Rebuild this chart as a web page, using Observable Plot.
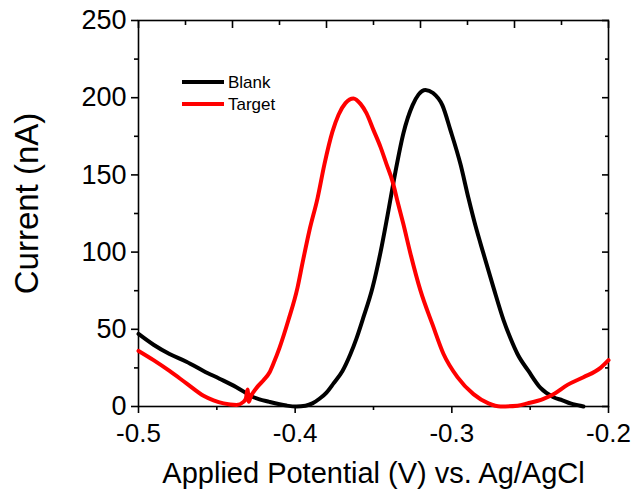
<!DOCTYPE html>
<html>
<head>
<meta charset="utf-8">
<script src="https://cdn.jsdelivr.net/npm/d3@7"></script>
<script src="https://cdn.jsdelivr.net/npm/@observablehq/plot@0.6"></script>
<style>
  body { margin: 0; background: #fff; }
  #chart { position: relative; width: 637px; height: 499px; font-family: "Liberation Sans", Arial, sans-serif; }
  #legend { position: absolute; left: 0; top: 0; pointer-events: none; }
</style>
</head>
<body>
<div id="chart"></div>
<script>
// Square-wave voltammograms: potential (V vs. Ag/AgCl) and current (nA)
const blankV = [-0.500, -0.4904, -0.4802, -0.4694, -0.4585, -0.4483, -0.4375, -0.4266, -0.4164, -0.4055,
  -0.3992, -0.3934, -0.3890, -0.3845, -0.3800, -0.3755, -0.3698, -0.3647, -0.3609, -0.3570,
  -0.3506, -0.3455, -0.3410, -0.3360, -0.3309, -0.3251, -0.3213, -0.3168, -0.3120, -0.3060,
  -0.3009, -0.2945, -0.2894, -0.2849, -0.2798, -0.2734, -0.2670, -0.2625, -0.2581, -0.2511,
  -0.2434, -0.2351, -0.2294, -0.2243, -0.2179, -0.2160];
const blankI = [47, 40, 34, 29, 23, 18, 12.5, 6, 3, 0.6,
  0, 0.5, 2, 5, 9, 15, 23, 34, 44, 56,
  77, 100, 124, 152, 177, 195, 202, 205, 203, 195,
  179, 157, 135, 117, 99, 77, 56, 44, 34, 23,
  12, 6, 4, 2, 0.5, 0];

const targetV = [-0.500, -0.4904, -0.4802, -0.4694, -0.4585, -0.4521, -0.4457, -0.4374, -0.4330, -0.4315,
  -0.4304, -0.4296, -0.4285, -0.4247, -0.4202, -0.4164, -0.4138, -0.4100, -0.4043, -0.3985,
  -0.3953, -0.3909, -0.3857, -0.3813, -0.3762, -0.3723, -0.3679, -0.3628, -0.3583, -0.3545,
  -0.3500, -0.3455, -0.3417, -0.3379, -0.3347, -0.3309, -0.3264, -0.3200, -0.3123, -0.3053,
  -0.2964, -0.2862, -0.2766, -0.2689, -0.2581, -0.2517, -0.2415, -0.2351, -0.2262, -0.2160,
  -0.2051, -0.2000];
const targetI = [36, 30, 23, 15, 7, 4, 2, 1, 3, 5,
  11, 3, 6, 12, 17, 22, 28, 38, 56, 77,
  93, 114, 135, 157, 178, 189, 196.5, 199.5, 196, 190,
  179, 168, 157, 146, 133, 118, 99, 75, 53, 34,
  19, 8, 2, 0, 0.5, 2, 5, 8, 14, 19,
  25, 30];

const xMajor = [-0.5, -0.4, -0.3, -0.2];
const xMinor = [-0.45, -0.35, -0.25];
const topMajor = [-0.5, -0.44, -0.38, -0.32, -0.26, -0.2];
const topMinor = [-0.47, -0.41, -0.35, -0.29, -0.23];
const yMajor = [0, 50, 100, 150, 200, 250];
const yMinor = [25, 75, 125, 175, 225];

const seriesNames = ["Blank", "Target"];
const seriesColors = ["#000000", "#ff0000"];

const blank = blankV.map((v, i) => ({v, i: blankI[i]}));
const target = targetV.map((v, i) => ({v, i: targetI[i]}));

const font = "Liberation Sans, Arial, sans-serif";
const blankFmt = () => "";

const chart = Plot.plot({
  width: 637,
  height: 499,
  marginLeft: 138,
  marginRight: 29,
  marginTop: 20,
  marginBottom: 93,
  style: {fontFamily: font, background: "#fff", color: "#000"},
  x: {domain: [-0.5, -0.2]},
  y: {domain: [0, 250]},
  marks: [
    // bottom axis: labelled majors, unlabelled minors, pointing outward
    Plot.axisX(xMajor, {anchor: "bottom", tickSize: 7, tickPadding: 10, strokeWidth: 1.6,
      fontSize: 26, tickFormat: d => d.toFixed(1), label: null}),
    Plot.axisX(xMinor, {anchor: "bottom", tickSize: 4, strokeWidth: 1.6, tickFormat: blankFmt, label: null}),
    // top axis: inward ticks only
    Plot.axisX(topMajor, {anchor: "top", tickSize: -7, strokeWidth: 1.6, tickFormat: blankFmt, label: null}),
    Plot.axisX(topMinor, {anchor: "top", tickSize: -4, strokeWidth: 1.6, tickFormat: blankFmt, label: null}),
    // left axis
    Plot.axisY(yMajor, {anchor: "left", tickSize: 7, tickPadding: 5, strokeWidth: 1.6,
      fontSize: 27, tickFormat: d => String(d), label: null}),
    Plot.axisY(yMinor, {anchor: "left", tickSize: 4, strokeWidth: 1.6, tickFormat: blankFmt, label: null}),
    // right axis: inward ticks only
    Plot.axisY(yMajor, {anchor: "right", tickSize: -7, strokeWidth: 1.6, tickFormat: blankFmt, label: null}),
    Plot.axisY(yMinor, {anchor: "right", tickSize: -4, strokeWidth: 1.6, tickFormat: blankFmt, label: null}),
    Plot.frame({stroke: "#000", strokeWidth: 1.6}),
    // axis titles
    Plot.text(["Applied Potential (V) vs. Ag/AgCl"], {frameAnchor: "bottom", dy: 67,
      lineAnchor: "middle", textAnchor: "middle", fontSize: 29, fill: "#000"}),
    Plot.text(["Current (nA)"], {frameAnchor: "left", dx: -111, dy: -10, rotate: -90,
      lineAnchor: "middle", textAnchor: "middle", fontSize: 33, fill: "#000"}),
    // curves
    Plot.line(blank, {x: "v", y: "i", stroke: seriesColors[0], strokeWidth: 4, curve: "monotone-x"}),
    Plot.line(target, {x: "v", y: "i", stroke: seriesColors[1], strokeWidth: 4, curve: "monotone-x"})
  ]
});

const host = document.getElementById("chart");
host.appendChild(chart);

// legend overlay in the upper-left of the plot area
const legend = d3.select(host).append("svg")
  .attr("id", "legend")
  .attr("width", 637)
  .attr("height", 499);
const rows = legend.selectAll("g").data(seriesNames).join("g")
  .attr("transform", (d, k) => `translate(182,${82 + k * 22})`);
rows.append("line")
  .attr("x1", 0).attr("x2", 42).attr("y1", 0).attr("y2", 0)
  .attr("stroke", (d, k) => seriesColors[k])
  .attr("stroke-width", 4);
rows.append("text")
  .attr("x", 46).attr("y", 0).attr("dy", "0.35em")
  .attr("font-family", font)
  .attr("font-size", 17)
  .attr("fill", "#000")
  .text(d => d);
</script>
</body>
</html>
